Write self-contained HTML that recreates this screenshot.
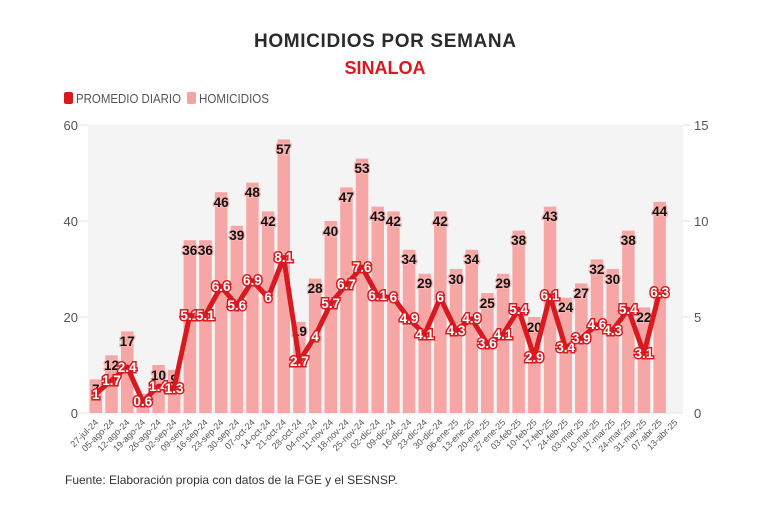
<!DOCTYPE html><html><head><meta charset="utf-8"><style>
body{margin:0;background:#fff;width:768px;height:512px;overflow:hidden}
text{font-family:"Liberation Sans",sans-serif}
.v{font-size:13.5px;font-weight:bold;fill:#111;text-anchor:middle;stroke:#f7b3b1;stroke-width:2.5px;paint-order:stroke}
.a{font-size:13.5px;font-weight:bold;fill:#fff;text-anchor:middle;stroke:#d81920;stroke-width:3px;paint-order:stroke}
.x{font-size:9px;fill:#555;text-anchor:end}
.ax{font-size:13px;fill:#555}
</style></head><body>
<svg width="768" height="512" xmlns="http://www.w3.org/2000/svg">
<text x="385" y="47" text-anchor="middle" textLength="262" style="font-size:19px;font-weight:bold;fill:#2b2b2b">HOMICIDIOS POR SEMANA</text>
<text x="385" y="74" text-anchor="middle" style="font-size:18px;font-weight:bold;fill:#e0141e">SINALOA</text>
<rect x="64" y="92" width="9" height="12" rx="2" fill="#d81920"/>
<text x="76" y="103" textLength="105" lengthAdjust="spacingAndGlyphs" style="font-size:12.5px;fill:#555">PROMEDIO DIARIO</text>
<rect x="187" y="92" width="9" height="12" rx="2" fill="#f4a3a1"/>
<text x="199" y="103" textLength="70" lengthAdjust="spacingAndGlyphs" style="font-size:12.5px;fill:#555">HOMICIDIOS</text>
<rect x="88" y="125" width="595" height="288" fill="#f4f4f4"/>
<g stroke="#e4e4e4" stroke-width="1"><line x1="74" y1="125" x2="88" y2="125"/><line x1="74" y1="221" x2="88" y2="221"/><line x1="74" y1="317" x2="88" y2="317"/><line x1="74" y1="413" x2="683" y2="413"/><line x1="683" y1="125" x2="690" y2="125"/><line x1="683" y1="221" x2="690" y2="221"/><line x1="683" y1="317" x2="690" y2="317"/></g>
<g class="ax" text-anchor="end"><text x="78" y="130">60</text><text x="78" y="226">40</text><text x="78" y="322">20</text><text x="78" y="418">0</text></g>
<g class="ax"><text x="694" y="130">15</text><text x="694" y="226">10</text><text x="694" y="322">5</text><text x="694" y="418">0</text></g>
<g fill="#f6a7a5">
<rect x="89.6" y="379.4" width="12.5" height="33.6"/><rect x="105.3" y="355.4" width="12.5" height="57.6"/><rect x="121" y="331.4" width="12.5" height="81.6"/><rect x="136.6" y="393.8" width="12.5" height="19.2"/><rect x="152.3" y="365" width="12.5" height="48"/><rect x="167.9" y="369.8" width="12.5" height="43.2"/><rect x="183.6" y="240.2" width="12.5" height="172.8"/><rect x="199.2" y="240.2" width="12.5" height="172.8"/><rect x="214.9" y="192.2" width="12.5" height="220.8"/><rect x="230.6" y="225.8" width="12.5" height="187.2"/><rect x="246.2" y="182.6" width="12.5" height="230.4"/><rect x="261.9" y="211.4" width="12.5" height="201.6"/><rect x="277.5" y="139.4" width="12.5" height="273.6"/><rect x="293.2" y="321.8" width="12.5" height="91.2"/><rect x="308.9" y="278.6" width="12.5" height="134.4"/><rect x="324.5" y="221" width="12.5" height="192"/><rect x="340.2" y="187.4" width="12.5" height="225.6"/><rect x="355.8" y="158.6" width="12.5" height="254.4"/><rect x="371.5" y="206.6" width="12.5" height="206.4"/><rect x="387.2" y="211.4" width="12.5" height="201.6"/><rect x="402.8" y="249.8" width="12.5" height="163.2"/><rect x="418.5" y="273.8" width="12.5" height="139.2"/><rect x="434.1" y="211.4" width="12.5" height="201.6"/><rect x="449.8" y="269" width="12.5" height="144"/><rect x="465.5" y="249.8" width="12.5" height="163.2"/><rect x="481.1" y="293" width="12.5" height="120"/><rect x="496.8" y="273.8" width="12.5" height="139.2"/><rect x="512.4" y="230.6" width="12.5" height="182.4"/><rect x="528.1" y="317" width="12.5" height="96"/><rect x="543.8" y="206.6" width="12.5" height="206.4"/><rect x="559.4" y="297.8" width="12.5" height="115.2"/><rect x="575.1" y="283.4" width="12.5" height="129.6"/><rect x="590.7" y="259.4" width="12.5" height="153.6"/><rect x="606.4" y="269" width="12.5" height="144"/><rect x="622.1" y="230.6" width="12.5" height="182.4"/><rect x="637.7" y="307.4" width="12.5" height="105.6"/><rect x="653.4" y="201.8" width="12.5" height="211.2"/>
</g>
<g class="v">
<text x="95.8" y="394">7</text><text x="111.5" y="370">12</text><text x="127.2" y="346">17</text><text x="174.1" y="384">9</text><text x="158.5" y="380">10</text><text x="189.8" y="255">36</text><text x="205.4" y="255">36</text><text x="221.1" y="207">46</text><text x="236.8" y="240">39</text><text x="252.4" y="197">48</text><text x="268.1" y="226">42</text><text x="283.7" y="154">57</text><text x="299.4" y="336">19</text><text x="315.1" y="293">28</text><text x="330.7" y="236">40</text><text x="346.4" y="202">47</text><text x="362" y="173">53</text><text x="377.7" y="221">43</text><text x="393.4" y="226">42</text><text x="409" y="264">34</text><text x="424.7" y="288">29</text><text x="440.3" y="226">42</text><text x="456" y="284">30</text><text x="471.7" y="264">34</text><text x="487.3" y="308">25</text><text x="503" y="288">29</text><text x="518.6" y="245">38</text><text x="534.3" y="332">20</text><text x="550" y="221">43</text><text x="565.6" y="312">24</text><text x="581.3" y="298">27</text><text x="596.9" y="274">32</text><text x="612.6" y="284">30</text><text x="628.3" y="245">38</text><text x="643.9" y="322">22</text><text x="659.6" y="216">44</text>
</g>
<polyline fill="none" stroke="#d81920" stroke-width="5" stroke-linejoin="round" points="95.8,393.8 111.5,380.4 127.2,366.9 142.8,401.5 158.5,386.1 174.1,388 189.8,315.1 205.4,315.1 221.1,286.3 236.8,305.5 252.4,280.5 268.1,297.8 283.7,257.5 299.4,361.2 315.1,336.2 330.7,303.6 346.4,284.4 362,267.1 377.7,295.9 393.4,297.8 409,318.9 424.7,334.3 440.3,297.8 456,330.4 471.7,318.9 487.3,343.9 503,334.3 518.6,309.3 534.3,357.3 550,295.9 565.6,347.7 581.3,338.1 596.9,324.7 612.6,330.4 628.3,309.3 643.9,353.5 659.6,292"/>
<g class="a">
<text x="95.8" y="399">1</text><text x="111.5" y="385">1.7</text><text x="127.2" y="372">2.4</text><text x="142.8" y="406">0.6</text><text x="158.5" y="391">1.4</text><text x="174.1" y="393">1.3</text><text x="189.8" y="320">5.1</text><text x="205.4" y="320">5.1</text><text x="221.1" y="291">6.6</text><text x="236.8" y="310">5.6</text><text x="252.4" y="285">6.9</text><text x="268.1" y="302">6</text><text x="283.7" y="262">8.1</text><text x="299.4" y="366">2.7</text><text x="315.1" y="341">4</text><text x="330.7" y="308">5.7</text><text x="346.4" y="289">6.7</text><text x="362" y="272">7.6</text><text x="377.7" y="300">6.1</text><text x="393.4" y="302">6</text><text x="409" y="323">4.9</text><text x="424.7" y="339">4.1</text><text x="440.3" y="302">6</text><text x="456" y="335">4.3</text><text x="471.7" y="323">4.9</text><text x="487.3" y="348">3.6</text><text x="503" y="339">4.1</text><text x="518.6" y="314">5.4</text><text x="534.3" y="362">2.9</text><text x="550" y="300">6.1</text><text x="565.6" y="352">3.4</text><text x="581.3" y="343">3.9</text><text x="596.9" y="329">4.6</text><text x="612.6" y="335">4.3</text><text x="628.3" y="314">5.4</text><text x="643.9" y="358">3.1</text><text x="659.6" y="297">6.3</text>
</g>
<g class="x">
<text transform="translate(98.8,423) rotate(-45)">27-jul-24</text><text transform="translate(114.5,423) rotate(-45)">05-ago-24</text><text transform="translate(130.2,423) rotate(-45)">12-ago-24</text><text transform="translate(145.8,423) rotate(-45)">19-ago-24</text><text transform="translate(161.5,423) rotate(-45)">26-ago-24</text><text transform="translate(177.1,423) rotate(-45)">02-sep-24</text><text transform="translate(192.8,423) rotate(-45)">09-sep-24</text><text transform="translate(208.4,423) rotate(-45)">16-sep-24</text><text transform="translate(224.1,423) rotate(-45)">23-sep-24</text><text transform="translate(239.8,423) rotate(-45)">30-sep-24</text><text transform="translate(255.4,423) rotate(-45)">07-oct-24</text><text transform="translate(271.1,423) rotate(-45)">14-oct-24</text><text transform="translate(286.7,423) rotate(-45)">21-oct-24</text><text transform="translate(302.4,423) rotate(-45)">28-oct-24</text><text transform="translate(318.1,423) rotate(-45)">04-nov-24</text><text transform="translate(333.7,423) rotate(-45)">11-nov-24</text><text transform="translate(349.4,423) rotate(-45)">18-nov-24</text><text transform="translate(365,423) rotate(-45)">25-nov-24</text><text transform="translate(380.7,423) rotate(-45)">02-dic-24</text><text transform="translate(396.4,423) rotate(-45)">09-dic-24</text><text transform="translate(412,423) rotate(-45)">16-dic-24</text><text transform="translate(427.7,423) rotate(-45)">23-dic-24</text><text transform="translate(443.3,423) rotate(-45)">30-dic-24</text><text transform="translate(459,423) rotate(-45)">06-ene-25</text><text transform="translate(474.7,423) rotate(-45)">13-ene-25</text><text transform="translate(490.3,423) rotate(-45)">20-ene-25</text><text transform="translate(506,423) rotate(-45)">27-ene-25</text><text transform="translate(521.6,423) rotate(-45)">03-feb-25</text><text transform="translate(537.3,423) rotate(-45)">10-feb-25</text><text transform="translate(553,423) rotate(-45)">17-feb-25</text><text transform="translate(568.6,423) rotate(-45)">24-feb-25</text><text transform="translate(584.3,423) rotate(-45)">03-mar-25</text><text transform="translate(599.9,423) rotate(-45)">10-mar-25</text><text transform="translate(615.6,423) rotate(-45)">17-mar-25</text><text transform="translate(631.3,423) rotate(-45)">24-mar-25</text><text transform="translate(646.9,423) rotate(-45)">31-mar-25</text><text transform="translate(662.6,423) rotate(-45)">07-abr-25</text><text transform="translate(678.2,423) rotate(-45)">13-abr-25</text>
</g>
<text x="65" y="484" style="font-size:12px;fill:#333">Fuente: Elaboración propia con datos de la FGE y el SESNSP.</text>
</svg>
</body></html>
